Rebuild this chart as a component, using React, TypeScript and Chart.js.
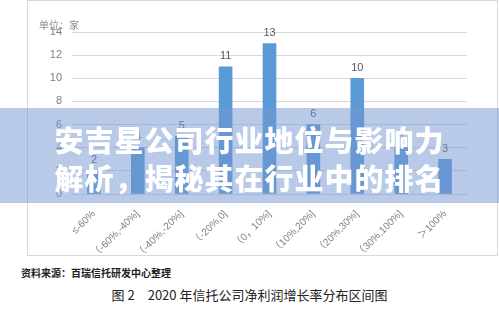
import React, { useEffect, useRef } from "react";
import { Chart, registerables } from "chart.js";

Chart.register(...registerables);

const categories = ["≤-60%", "（-60%,-40%]", "（-40%,-20%]", "（-20%,0]", "（0，10%]", "（10%,20%]", "（20%,30%]", "（30%,100%]", "＞100%"];
const companyCounts = [2, 4, 5, 11, 13, 6, 10, 4, 3];
const yTicks = [0, 2, 4, 6, 8, 10, 12, 14];
const unitLabel = "单位：家";
const overlayLine1 = "安吉星公司行业地位与影响力";
const overlayLine2 = "解析，揭秘其在行业中的排名";
const sourceText = "资料来源：百瑞信托研发中心整理";
const captionText = "图 2　2020 年信托公司净利润增长率分布区间图";

const valueLabels = {
  id: "valueLabels",
  afterDatasetsDraw(chart: any) {
    const ctx = chart.ctx;
    const meta = chart.getDatasetMeta(0);
    ctx.save();
    ctx.fillStyle = "#595959";
    ctx.font = "11px 'Liberation Sans', Arial, sans-serif";
    ctx.textAlign = "center";
    ctx.textBaseline = "bottom";
    meta.data.forEach((el: any, i: number) => {
      ctx.fillText(String(chart.data.datasets[0].data[i]), el.x, el.y - 5);
    });
    ctx.restore();
  },
};

export default function App() {
  const ref = useRef<HTMLCanvasElement>(null);
  useEffect(() => {
    document.body.style.margin = "0";
    const chart = new Chart(ref.current!, {
      type: "bar",
      data: {
        labels: categories,
        datasets: [
          {
            data: companyCounts,
            backgroundColor: "#5b9bd5",
            barThickness: 13,
          },
        ],
      },
      options: {
        animation: false,
        responsive: false,
        maintainAspectRatio: false,
        layout: { padding: { top: 32, right: 31, left: 0, bottom: 0 } },
        plugins: { legend: { display: false }, tooltip: { enabled: false } },
        scales: {
          x: {
            grid: { display: false },
            border: { display: true, color: "#d9d9d9" },
            ticks: {
              color: "#7f7f7f",
              font: { size: 10, family: "'Liberation Sans', 'Noto Sans CJK SC', Arial, sans-serif" },
              minRotation: 45,
              maxRotation: 45,
              autoSkip: false,
              padding: 6,
            },
            afterFit(s: any) {
              s.height = 62;
            },
          },
          y: {
            min: 0,
            max: 14,
            afterBuildTicks(s: any) {
              s.ticks = yTicks.map((v) => ({ value: v }));
            },
            grid: { color: "#d9d9d9", drawTicks: false },
            border: { display: false },
            ticks: {
              color: "#7f7f7f",
              font: { size: 11, family: "'Liberation Sans', Arial, sans-serif" },
              padding: 10,
            },
            afterFit(s: any) {
              s.width = 45;
            },
          },
        },
      },
      plugins: [valueLabels],
    });
    return () => chart.destroy();
  }, []);

  return (
    <div style={{ position: "relative", width: 499, height: 313, background: "#fff", overflow: "hidden", fontFamily: "'Noto Sans CJK SC', sans-serif" }}>
      <div style={{ position: "absolute", left: 27, top: 0, width: 471, height: 256, border: "1px solid #d9d9d9", boxSizing: "border-box" }}>
        <canvas ref={ref} width={471} height={256} style={{ position: "absolute", left: -1, top: -1 }} />
      </div>
      <div style={{ position: "absolute", left: 39, top: 17, fontSize: 10, color: "#8c8c8c", whiteSpace: "nowrap" }}>{unitLabel}</div>
      <div
        style={{
          position: "absolute",
          left: 0,
          top: 108,
          width: 499,
          height: 95,
          background: "rgba(115,150,210,0.5)",
          color: "#fff",
          fontWeight: 900,
          fontSize: 29,
          lineHeight: "38px",
          textAlign: "center",
          paddingTop: 12,
          boxSizing: "border-box",
          letterSpacing: 1,
        }}
      >
        <div>{overlayLine1}</div>
        <div>{overlayLine2}</div>
      </div>
      <div style={{ position: "absolute", left: 21, top: 265, fontSize: 10, fontWeight: 700, color: "#222", whiteSpace: "nowrap" }}>{sourceText}</div>
      <div style={{ position: "absolute", left: 0, width: 499, top: 285, fontSize: 13, color: "#222", textAlign: "center", whiteSpace: "nowrap" }}>{captionText}</div>
    </div>
  );
}
